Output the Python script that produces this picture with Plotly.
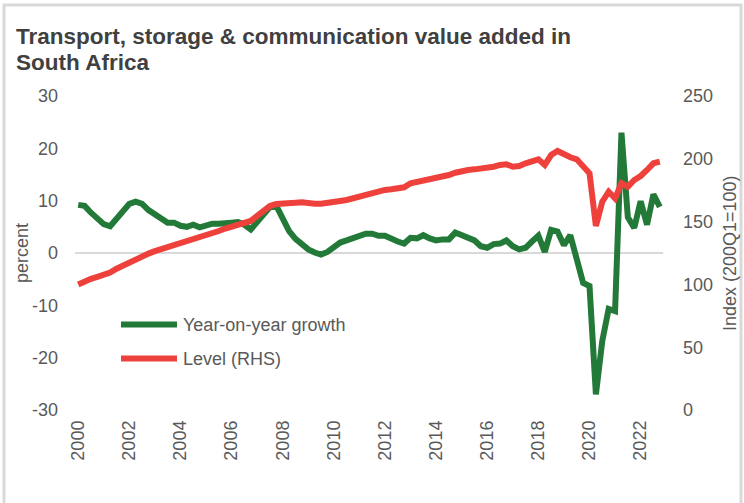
import plotly.graph_objects as go

# quarterly data, 2000Q1 - 2022Q4
years = list(range(2000, 2023))
quarters = [1, 2, 3, 4]

# year-on-year growth, percent (LHS)
yoy_growth = [
    9.2, 9.0, 7.7, 6.5, 5.5, 5.1, 6.5, 8.0, 9.4, 9.8, 9.4, 8.2,
    7.5, 6.5, 5.8, 5.8, 5.2, 5.0, 5.4, 4.9, 5.2, 5.6, 5.6, 5.6,
    5.8, 5.9, 5.4, 4.5, 5.8, 7.4, 8.8, 9.0, 6.5, 4.2, 2.7, 1.5,
    0.7, 0.1, -0.3, 0.2, 1.1, 2.0, 2.4, 2.8, 3.4, 3.7, 3.7, 3.3,
    3.3, 2.6, 2.2, 1.8, 2.9, 2.8, 3.4, 2.8, 2.4, 2.6, 2.6, 3.9,
    3.3, 2.8, 2.4, 1.3, 1.0, 1.7, 1.8, 2.4, 1.3, 0.7, 1.0, 2.2,
    3.3, 0.2, 4.4, 4.1, 1.5, 3.4, -0.9, -5.7, -6.3, -27.0, -16.8, -10.7,
    -11.1, 23.0, 6.8, 4.8, 9.9, 5.4, 11.2, 8.8,
]

# level index, 2000Q1 = 100 (RHS)
level_index = [
    100.0, 102.5, 104.5, 106.0, 107.5, 109.5, 112.5, 115.0, 118.0, 120.5, 122.5, 124.5,
    126.5, 128.0, 129.5, 131.0, 132.5, 134.0, 135.5, 137.5, 139.0, 140.5, 142.5, 144.5,
    146.0, 147.8, 149.1, 150.5, 154.5, 158.7, 162.4, 164.0, 164.0, 164.6, 165.0, 165.4,
    164.6, 164.3, 164.3, 164.6, 165.4, 166.4, 167.2, 168.5, 170.4, 172.0, 173.0, 174.4,
    175.2, 175.7, 176.5, 177.3, 180.5, 181.5, 182.6, 183.1, 184.5, 185.8, 187.1, 188.9,
    190.3, 191.1, 191.6, 191.9, 192.4, 193.7, 195.1, 195.6, 193.7, 194.3, 196.4, 198.5,
    199.6, 195.1, 203.0, 206.2, 203.0, 201.2, 199.6, 194.3, 188.5, 146.5, 165.8, 173.8,
    168.5, 180.5, 177.8, 183.1, 186.3, 191.1, 196.4, 197.7,
]

tick_years = list(range(2000, 2023, 2))
lhs_ticks = [-30, -20, -10, 0, 10, 20, 30]

GREEN = "#237a38"
RED = "#ef413c"
TEXT = "#595959"
FONT = "Liberation Sans, Arial, sans-serif"

x = [y + (q - 1) / 4 for y in years for q in quarters]

# plot area in pixels (used for placing annotations / frame)
W, H = 744, 503
L, R, T, B = 75, 663, 96, 410
def px(xp):
    return (xp - L) / (R - L)
def py(yp):
    return (B - yp) / (B - T)

fig = go.Figure()
fig.add_trace(go.Scatter(x=x, y=yoy_growth, name="Year-on-year growth", mode="lines",
                         line=dict(color=GREEN, width=6), showlegend=False))
fig.add_trace(go.Scatter(x=x, y=level_index, name="Level (RHS)", mode="lines", yaxis="y2",
                         line=dict(color=RED, width=6), showlegend=False))

fig.update_layout(
    width=W, height=H,
    margin=dict(l=L, r=W - R, t=T, b=H - B, autoexpand=False),
    paper_bgcolor="white", plot_bgcolor="white",
    font=dict(family=FONT, size=18, color=TEXT),
    xaxis=dict(range=[1999.875, 2022.875], tickvals=tick_years,
               ticktext=[str(v) for v in tick_years], tickangle=-90,
               showgrid=False, zeroline=False, showline=False, ticks="",
               ticklabelstandoff=6),
    yaxis=dict(range=[-30, 30], tickvals=lhs_ticks, ticktext=[str(v) for v in lhs_ticks],
               showgrid=False, zeroline=True,
               zerolinecolor="#d9d9d9", zerolinewidth=2, showline=False, ticks="",
               ticklabelstandoff=16),
    yaxis2=dict(range=[0, 250], dtick=50, overlaying="y", side="right", showgrid=False,
                zeroline=False, showline=False, ticks="", ticklabelstandoff=19),
)

# title, two lines
for line, ty in [("Transport, storage & communication value added in", 37),
                 ("South Africa", 62)]:
    fig.add_annotation(text="<b>" + line + "</b>", x=px(14), y=py(ty), xref="paper", yref="paper",
                       showarrow=False, xanchor="left", yanchor="middle",
                       font=dict(size=22.5, color="#404040"))

# axis titles
fig.add_annotation(text="percent", x=px(22), y=0.5, xref="paper", yref="paper",
                   textangle=-90, showarrow=False, xanchor="center", yanchor="middle",
                   font=dict(size=18, color=TEXT))
fig.add_annotation(text="Index (200Q1=100)", x=px(730), y=0.5, xref="paper", yref="paper",
                   textangle=-90, showarrow=False, xanchor="center", yanchor="middle",
                   font=dict(size=18, color=TEXT))

# legend drawn in the plot
for name, color, ly in [("Year-on-year growth", GREEN, 324.5), ("Level (RHS)", RED, 358.5)]:
    fig.add_shape(type="line", xref="paper", yref="paper", x0=px(121), x1=px(177),
                  y0=py(ly), y1=py(ly), line=dict(color=color, width=6))
    fig.add_annotation(text=name, x=px(181), y=py(ly), xref="paper", yref="paper",
                       showarrow=False, xanchor="left", yanchor="middle",
                       font=dict(size=18, color=TEXT))

# outer frame
fig.add_shape(type="rect", xref="paper", yref="paper", x0=px(4), x1=px(741),
              y0=py(530), y1=py(5), line=dict(color="#d9d9d9", width=3), layer="below")

fig.write_html("out.html", config={"displayModeBar": False},
               post_script="document.body.style.margin='0px';")
